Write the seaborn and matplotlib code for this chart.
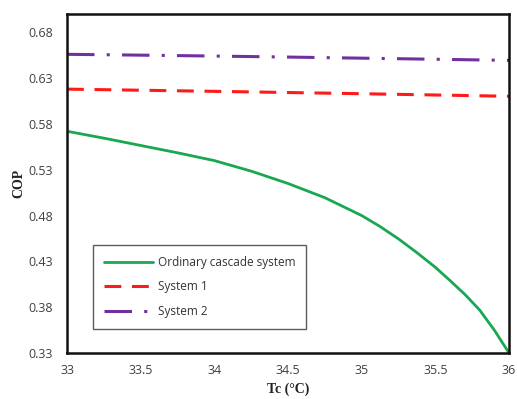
import matplotlib
matplotlib.use("Agg")
import matplotlib.pyplot as plt
import seaborn as sns
import pandas as pd

# Condensing temperature (°C) and COP of each configuration
tc_ordinary = [33.0, 33.25, 33.5, 33.75, 34.0, 34.25, 34.5, 34.75, 35.0,
               35.125, 35.25, 35.375, 35.5, 35.6, 35.7, 35.8, 35.9, 36.0]
cop_ordinary = [0.572, 0.5645, 0.5565, 0.5485, 0.540, 0.5285, 0.515, 0.4995,
                0.480, 0.468, 0.4545, 0.4395, 0.4235, 0.409, 0.394, 0.377,
                0.355, 0.330]

tc_sys = [33.0, 33.5, 34.0, 34.5, 35.0, 35.5, 36.0]
cop_sys1 = [0.618, 0.6168, 0.6156, 0.6143, 0.6130, 0.6116, 0.6102]
cop_sys2 = [0.656, 0.6551, 0.6541, 0.6530, 0.6518, 0.6506, 0.6494]

labels = ["Ordinary cascade system", "System 1", "System 2"]
x_ticks = [33, 33.5, 34, 34.5, 35, 35.5, 36]
x_tick_labels = ["33", "33.5", "34", "34.5", "35", "35.5", "36"]
y_ticks = [0.33, 0.38, 0.43, 0.48, 0.53, 0.58, 0.63, 0.68]

sns.set_style("white")
plt.rcParams["font.family"] = ["Open Sans", "DejaVu Sans"]

fig = plt.figure(figsize=(5.17, 3.99), dpi=100)
ax = fig.add_axes([0.1296, 0.1153, 0.855, 0.8496])

df_ord = pd.DataFrame({"Tc": tc_ordinary, "COP": cop_ordinary})
df_s1 = pd.DataFrame({"Tc": tc_sys, "COP": cop_sys1})
df_s2 = pd.DataFrame({"Tc": tc_sys, "COP": cop_sys2})

sns.lineplot(data=df_ord, x="Tc", y="COP", ax=ax, color="#1aa752",
             linewidth=2.0, label=labels[0])
sns.lineplot(data=df_s1, x="Tc", y="COP", ax=ax, color="#ff1a1a",
             linewidth=2.2, label=labels[1], dashes=False)
sns.lineplot(data=df_s2, x="Tc", y="COP", ax=ax, color="#7030a0",
             linewidth=2.2, label=labels[2], dashes=False)

lines = ax.get_lines()
lines[0].set_solid_joinstyle("round")
lines[1].set_dashes([5.5, 3.5])
lines[2].set_dashes([9, 4, 1, 4])

ax.set_xlim(33, 36)
ax.set_ylim(0.33, 0.70)
ax.set_xticks(x_ticks)
ax.set_xticklabels(x_tick_labels)
ax.set_yticks(y_ticks)
ax.set_yticklabels([f"{v:.2f}" for v in y_ticks])

ax.tick_params(axis="x", direction="in", length=4, width=0.8, colors="#404040",
               labelsize=9, pad=8)
ax.tick_params(axis="y", direction="out", length=4, width=0.8, colors="#404040",
               labelsize=9, pad=6)
ax.tick_params(which="both", color="#555555")

for spine in ax.spines.values():
    spine.set_visible(True)
    spine.set_color("#111111")
    spine.set_linewidth(1.8)

ax.set_xlabel("Tc (°C)", fontfamily="Liberation Serif", fontweight="bold",
              fontsize=10, color="#222222", labelpad=4)
ax.set_ylabel("COP", fontfamily="Liberation Serif", fontweight="bold",
              fontsize=10, color="#222222", labelpad=2)

leg = ax.legend(loc="lower left", bbox_to_anchor=(0.059, 0.071),
                frameon=True, fancybox=False, fontsize=8.5,
                handlelength=4.2, handletextpad=0.4, labelspacing=1.0,
                borderpad=0.9, borderaxespad=0)
leg.get_frame().set_edgecolor("#333333")
leg.get_frame().set_linewidth(1.0)
for t in leg.get_texts():
    t.set_color("#333333")

fig.savefig("out.png", dpi=100)
